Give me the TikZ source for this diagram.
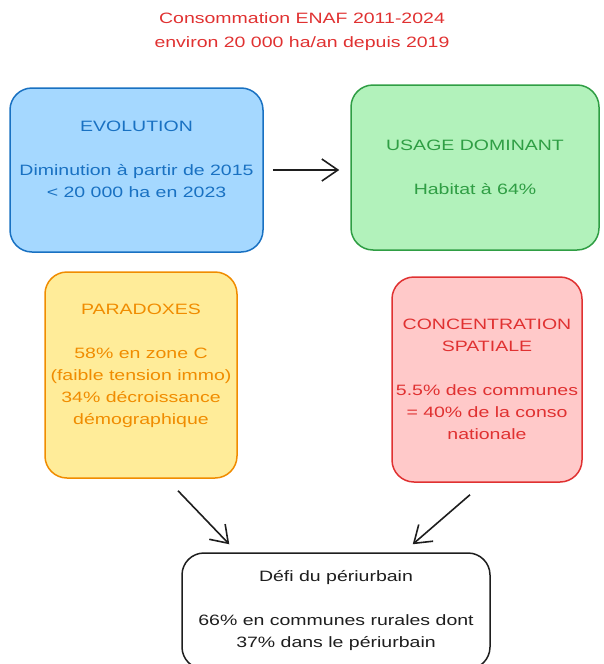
\documentclass[tikz,border=0pt]{standalone}
\usepackage{fontspec}
\setmainfont{Liberation Sans}[FakeStretch=1.3]
\usepackage{xcolor}
\usetikzlibrary{arrows.meta,positioning,calc}

\definecolor{ink}{HTML}{1E1E1E}
\definecolor{evoline}{HTML}{1971C2}
\definecolor{evofill}{HTML}{A5D8FF}
\definecolor{useline}{HTML}{2F9E44}
\definecolor{usefill}{HTML}{B2F2BB}
\definecolor{parline}{HTML}{F08C00}
\definecolor{parfill}{HTML}{FFEC99}
\definecolor{conline}{HTML}{E03131}
\definecolor{confill}{HTML}{FFC9C9}

\begin{document}
\begin{tikzpicture}[
  x=1pt, y=-1pt,
  box/.style={draw, rounded corners=22pt, align=center, inner sep=0pt,
    line width=1.5pt, font=\fontsize{15}{22}\selectfont},
  evobox/.style={box, fill=evofill, draw=evoline, text=evoline},
  usebox/.style={box, fill=usefill, draw=useline, text=useline},
  parbox/.style={box, fill=parfill, draw=parline, text=parline},
  conbox/.style={box, fill=confill, draw=conline, text=conline},
  arrow/.style={-{Straight Barb[length=16pt,width=22pt,line width=1.6pt]}, line width=1.6pt, draw=ink}
]
\useasboundingbox (0,0) rectangle (603,664);

\node[align=center, text=conline, font=\fontsize{15}{24}\selectfont] (title) at (302,32)
  {Consommation ENAF 2011-2024\\environ 20 000 ha/an depuis 2019};

\node[evobox, minimum width=253pt, minimum height=164pt] (evo) at (136.5,170)
  {EVOLUTION\\\mbox{}\\Diminution à partir de 2015\\< 20 000 ha en 2023\\\mbox{}};
\node[usebox, minimum width=248pt, minimum height=165pt] (usage) at (475,167.5)
  {USAGE DOMINANT\\\mbox{}\\Habitat à 64\%};
\node[parbox, minimum width=192pt, minimum height=206pt] (parad) at (141,375)
  {PARADOXES\\\mbox{}\\58\% en zone C\\(faible tension immo)\\34\% décroissance\\démographique\\\mbox{}};
\node[conbox, minimum width=190pt, minimum height=205pt] (conc) at (487,379.5)
  {CONCENTRATION\\SPATIALE\\\mbox{}\\5.5\% des communes\\= 40\% de la conso\\nationale};
\node[box, fill=white, draw=ink, text=ink, minimum width=308pt, minimum height=116pt] (defi) at (336,611)
  {Défi du périurbain\\\mbox{}\\66\% en communes rurales dont\\37\% dans le périurbain};

\draw[arrow, shorten <=9pt, shorten >=11pt] (evo.east) -- (evo.east -| usage.west);
\draw[arrow] ($(parad.south)+(37,12)$) -- ($(defi.north west)+(48,-8)$);
\draw[arrow] ($(conc.south)+(-17,12)$) -- ($(defi.north east)+(-78,-8)$);
\end{tikzpicture}
\end{document}
